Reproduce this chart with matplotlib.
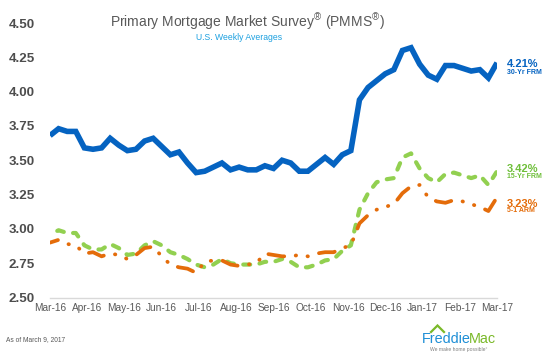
import numpy as np
import matplotlib
matplotlib.use("Agg")
import matplotlib.pyplot as plt
from matplotlib.lines import Line2D

plt.rcParams['font.family'] = ['Liberation Sans', 'DejaVu Sans']
plt.rcParams['mathtext.fontset'] = 'custom'
plt.rcParams['mathtext.rm'] = 'Liberation Sans'
plt.rcParams['lines.scale_dashes'] = False

# ---- data (weekly, Mar 10 2016 .. Mar 9 2017) ----
frm30 = [3.68, 3.73, 3.71, 3.71, 3.59, 3.58, 3.59, 3.66, 3.61, 3.57,
         3.58, 3.64, 3.66, 3.60, 3.54, 3.56, 3.48, 3.41, 3.42, 3.45,
         3.48, 3.43, 3.45, 3.43, 3.43, 3.46, 3.44, 3.50, 3.48, 3.42,
         3.42, 3.47, 3.52, 3.47, 3.54, 3.57, 3.94, 4.03, 4.08, 4.13,
         4.16, 4.30, 4.32, 4.20, 4.12, 4.09, 4.19, 4.19, 4.17, 4.15,
         4.16, 4.10, 4.21]
frm15 = [2.96, 2.99, 2.97, 2.97, 2.88, 2.85, 2.85, 2.89, 2.86, 2.81,
         2.82, 2.88, 2.91, 2.88, 2.83, 2.81, 2.78, 2.74, 2.72, 2.74,
         2.78, 2.75, 2.74, 2.74, 2.74, 2.76, 2.76, 2.78, 2.76, 2.72,
         2.72, 2.74, 2.77, 2.78, 2.84, 2.88, 3.14, 3.26, 3.34, 3.36,
         3.37, 3.52, 3.55, 3.44, 3.37, 3.34, 3.40, 3.41, 3.39, 3.37,
         3.39, 3.32, 3.42]
arm51 = [2.90, 2.92, 2.89, 2.88, 2.82, 2.83, 2.80, 2.82, 2.81, 2.78,
         2.81, 2.86, 2.87, 2.80, 2.74, 2.72, 2.71, 2.68, 2.76, 2.77,
         2.77, 2.74, 2.73, 2.74, 2.75, 2.82, 2.81, 2.80, 2.80, 2.81,
         2.80, 2.82, 2.83, 2.83, 2.86, 2.88, 3.04, 3.10, 3.14, 3.16,
         3.18, 3.26, 3.31, 3.32, 3.23, 3.20, 3.19, 3.21, 3.20, 3.18,
         3.16, 3.13, 3.23]
month_labels = ['Mar-16', 'Apr-16', 'May-16', 'Jun-16', 'Jul-16', 'Aug-16',
                'Sep-16', 'Oct-16', 'Nov-16', 'Dec-16', 'Jan-17', 'Feb-17',
                'Mar-17']
ytick_vals = [2.50, 2.75, 3.00, 3.25, 3.50, 3.75, 4.00, 4.25, 4.50]
end_labels = [('4.21%', '30-Yr FRM'), ('3.42%', '15-Yr FRM'), ('3.23%', '5-1 ARM')]

W, H = 553, 356
fig = plt.figure(figsize=(W / 100, H / 100), dpi=100)
fig.patch.set_facecolor('white')

def fx(x):
    return x / W

def fy(y):
    return 1 - y / H

ax = fig.add_axes([fx(50), fy(297.5), (497 - 50) / W, (297.5 - 23) / H])
x = np.arange(len(frm30))

blue = '#0563C1'
green = '#92D050'
orange = '#E46C0A'

ax.plot(x, frm30, color=blue, lw=4.0, solid_joinstyle='miter', solid_capstyle='butt', zorder=4)
ax.plot(x, frm15, color=green, lw=3.0, linestyle=(6.0, (5.0, 6.8)),
        dash_capstyle='round', zorder=3)
ax.plot(x, arm51, color=orange, lw=2.7,
        linestyle=(5.5, (11.5, 8.3, 0.3, 8.3, 0.3, 8.3)),
        dash_capstyle='round', zorder=3)

ax.set_xlim(0, 52)
ax.set_ylim(2.5, 4.5)
ax.set_xticks(np.linspace(0, 52, 13))
ax.set_xticklabels(month_labels)
ax.set_yticks(ytick_vals)
ax.set_yticklabels([f'{v:.2f}' for v in ytick_vals])
ax.tick_params(axis='x', length=0, pad=4, labelsize=7.3, labelcolor='#595959')
ax.tick_params(axis='y', length=0, pad=11, labelsize=9.6, labelcolor='#4d4d4d')
for lab in ax.get_yticklabels():
    lab.set_fontweight('bold')
for s in ['top', 'right', 'left']:
    ax.spines[s].set_visible(False)
ax.spines['bottom'].set_color('#d9d9d9')
ax.spines['bottom'].set_linewidth(1.0)
ax.set_facecolor('none')

# titles
fig.text(fx(247), fy(22), 'Primary Mortgage Market Survey$^{®}$ (PMMS$^{®}$)',
         ha='center', va='center', fontsize=10, color='#595959')
fig.text(fx(239), fy(38), 'U.S. Weekly Averages', ha='center', va='center',
         fontsize=6.2, color='#1ca0e0')

# end labels
label_cols = [blue, '#6fbf3a', orange]
label_ys = [(64, 73), (169, 177), (204, 211)]
for (pct, name), col, (y1, y2) in zip(end_labels, label_cols, label_ys):
    fig.text(fx(507), fy(y1), pct, ha='left', va='center', fontsize=8,
             fontweight='bold', color=col)
    fig.text(fx(507), fy(y2), name, ha='left', va='center', fontsize=5,
             fontweight='bold', color=col)

# footer
fig.text(fx(6), fy(340), 'As of March 9, 2017', ha='left', va='center',
         fontsize=4.8, color='#595959')

# logo
t1 = fig.text(fx(422), fy(339), 'Freddie', ha='left', va='center',
              fontsize=10.4, color='#1f8fd6')
fig.canvas.draw()
bb = t1.get_window_extent()
fig.text((bb.x1 - 1.5) / W, fy(339), 'Mac', ha='left', va='center',
         fontsize=10.4, color='#7ab929')
fig.add_artist(Line2D([fx(431), fx(437.5), fx(444)], [fy(332), fy(325.5), fy(332)],
                      transform=fig.transFigure, color='#7ab929', lw=1.6,
                      solid_joinstyle='miter'))
fig.text(fx(459), fy(349), 'We make home possible\u00b0', ha='center', va='center',
         fontsize=3.6, color='#7f7f7f')

fig.savefig('out.png', dpi=100, facecolor='white')
